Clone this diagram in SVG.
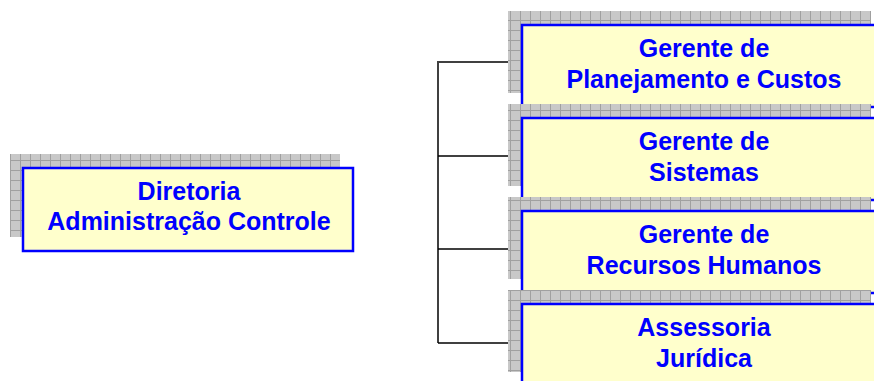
<svg xmlns="http://www.w3.org/2000/svg" width="874" height="381" viewBox="0 0 874 381">
  <style>
    .box { fill: #FFFFCC; stroke: #0000FF; stroke-width: 2.5; }
    .shadow { fill: url(#grid); }
    .label { font-family: "Liberation Sans", Arial, sans-serif; font-weight: bold; font-size: 25px; fill: #0000FF; text-anchor: middle; }
    .wire { stroke: #000000; stroke-width: 1.5; fill: none; }
  </style>
  <defs>
    <pattern id="grid" width="10" height="10" patternUnits="userSpaceOnUse">
      <rect width="10" height="10" fill="#C8C8C8"/>
      <path d="M0 0.5 H10 M0.5 0 V10" stroke="#A0A0A0" stroke-width="1"/>
    </pattern>
  </defs>
  <rect width="874" height="381" fill="#FFFFFF"/>

  <g id="connectors">
    <path class="wire" d="M438 63 V343"/>
    <path class="wire" d="M437 62 H522"/>
    <path class="wire" d="M438 156 H522"/>
    <path class="wire" d="M438 249 H522"/>
    <path class="wire" d="M438 343 H522"/>
  </g>

  <g id="diretoria">
    <rect class="shadow" x="10" y="154" width="330" height="83"/>
    <rect class="box" x="23" y="168" width="330" height="83"/>
    <text class="label" x="189" y="200">Diretoria</text>
    <text class="label" x="189" y="230">Administração Controle</text>
  </g>

  <g id="planejamento">
    <rect class="shadow" x="508" y="11" width="363" height="82"/>
    <rect class="box" x="522" y="25" width="365" height="82"/>
    <text class="label" x="704" y="57">Gerente de</text>
    <text class="label" x="704" y="88">Planejamento e Custos</text>
  </g>

  <g id="sistemas">
    <rect class="shadow" x="508" y="104" width="363" height="82"/>
    <rect class="box" x="522" y="118" width="365" height="82"/>
    <text class="label" x="704" y="150">Gerente de</text>
    <text class="label" x="704" y="181">Sistemas</text>
  </g>

  <g id="recursos-humanos">
    <rect class="shadow" x="508" y="197" width="363" height="82"/>
    <rect class="box" x="522" y="211" width="365" height="82"/>
    <text class="label" x="704" y="243">Gerente de</text>
    <text class="label" x="704" y="274">Recursos Humanos</text>
  </g>

  <g id="assessoria">
    <rect class="shadow" x="508" y="290" width="363" height="82"/>
    <rect class="box" x="522" y="304" width="365" height="82"/>
    <text class="label" x="704" y="336">Assessoria</text>
    <text class="label" x="704" y="367">Jurídica</text>
  </g>
</svg>
